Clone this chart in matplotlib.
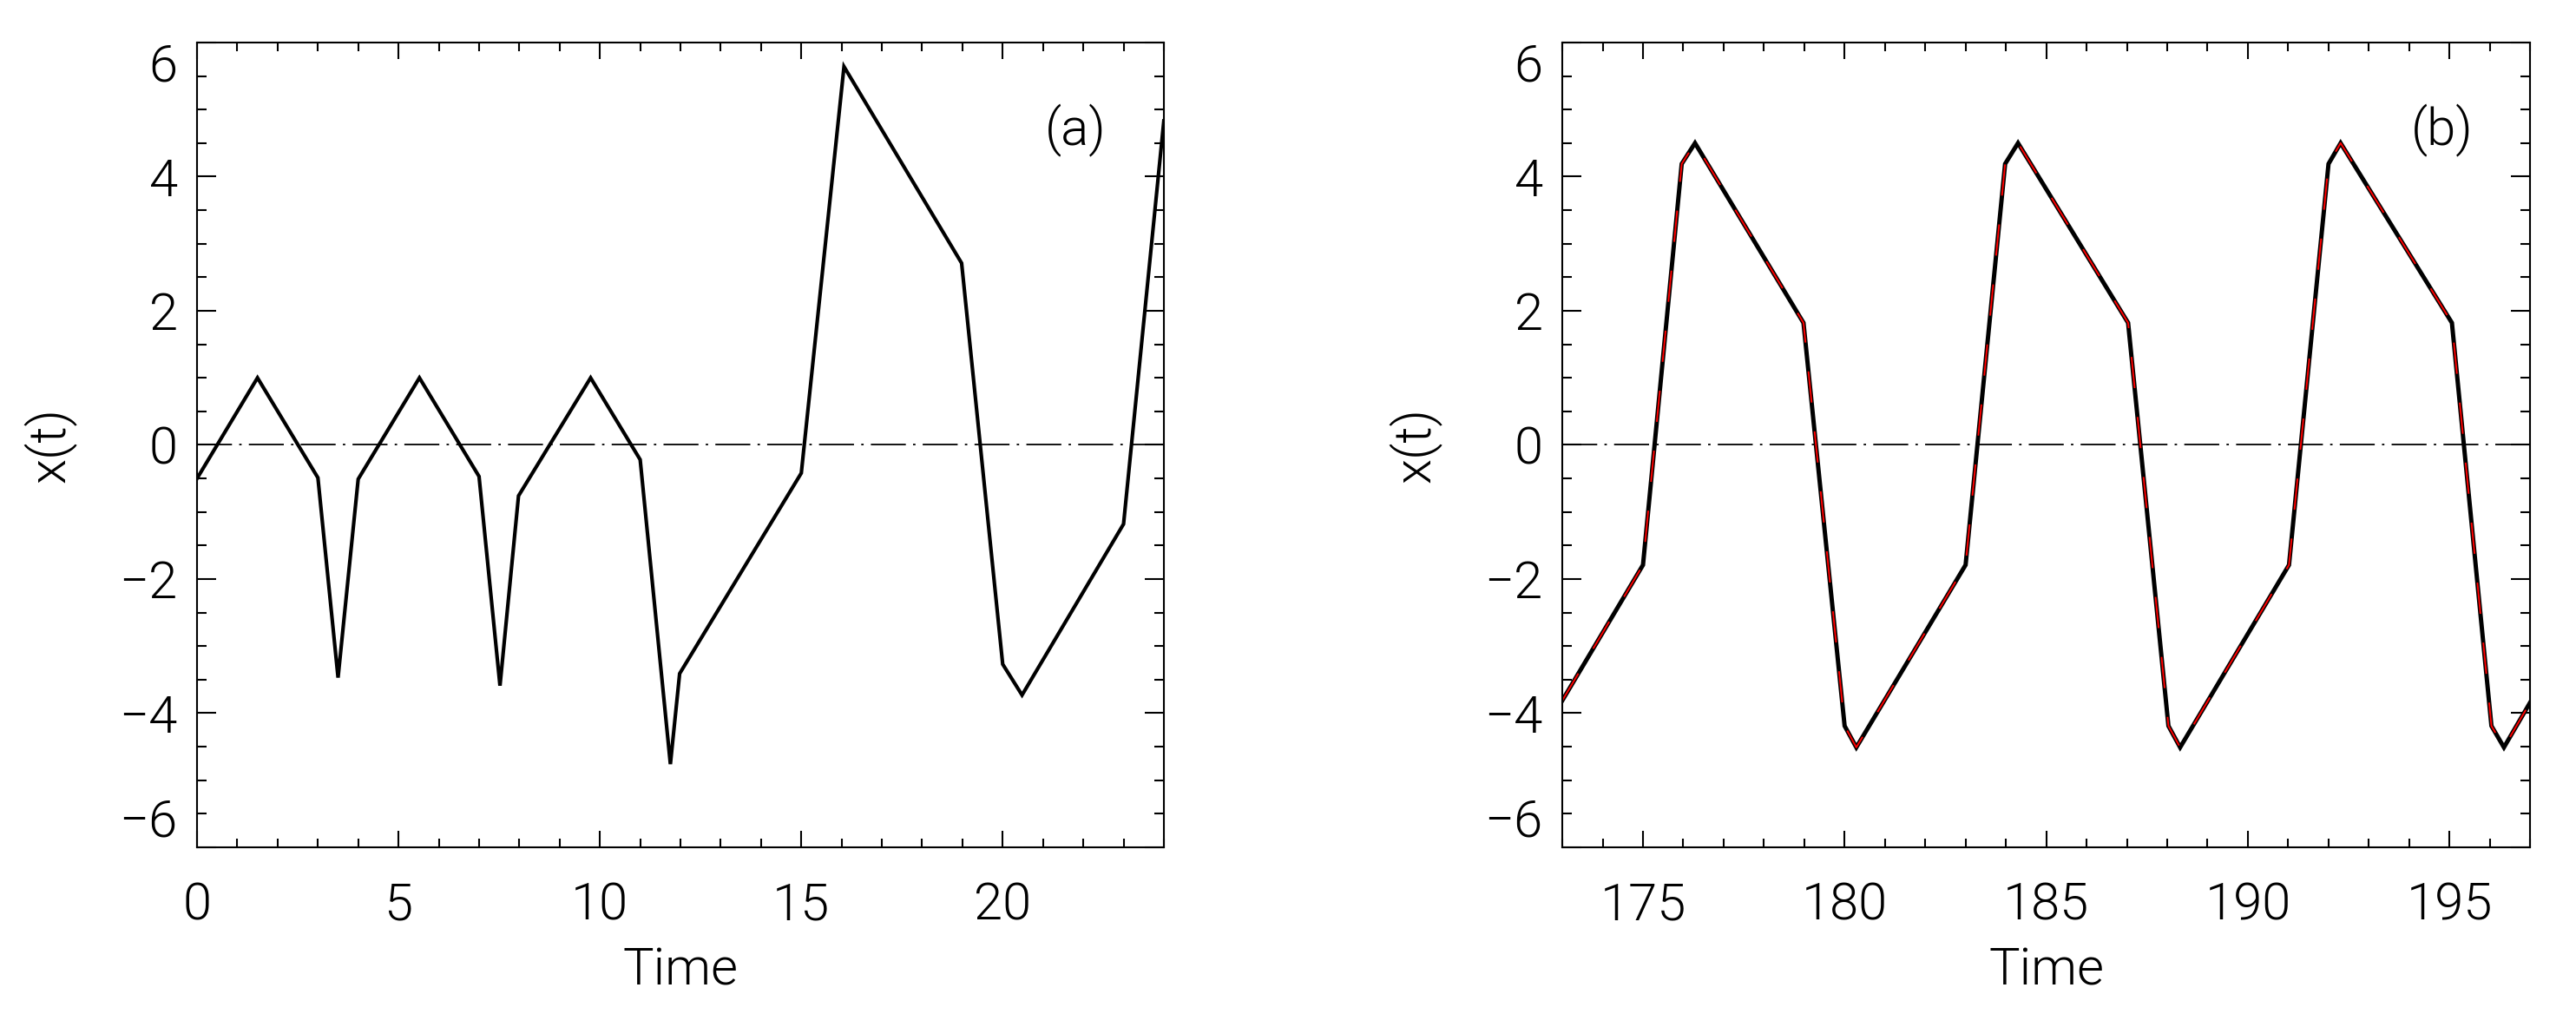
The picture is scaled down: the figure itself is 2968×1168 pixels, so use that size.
import matplotlib
matplotlib.use('Agg')
import matplotlib.pyplot as plt
from matplotlib.ticker import MultipleLocator

# vertices, panel (a)
t_a = [0.0, 1.5, 3.0, 3.5, 4.0, 5.52, 7.0, 7.52, 7.98, 9.77, 11.0, 11.75, 11.98,
       15.0, 16.06, 18.98, 20.0, 20.48, 23.0, 24.0]
x_a = [-0.5, 1.0, -0.49, -3.47, -0.51, 1.0, -0.47, -3.59, -0.76, 1.0, -0.22, -4.76, -3.41,
       -0.42, 5.64, 2.71, -3.27, -3.73, -1.18, 4.83]

# panel (b)
t_b = [173.0, 175.0, 175.96, 176.29, 178.98, 180.0, 180.29, 183.0, 183.98, 184.3,
       187.03, 188.03, 188.32, 191.02, 192.0, 192.3, 195.06, 196.04, 196.35, 197.0]
x_b = [-3.81, -1.79, 4.19, 4.5, 1.82, -4.19, -4.51, -1.79, 4.19, 4.5,
       1.82, -4.19, -4.51, -1.79, 4.19, 4.5, 1.82, -4.19, -4.51, -3.84]

xlims = [(0, 24), (173, 197)]
xmajor = 5
labels = ['(a)', '(b)']

plt.rcParams['font.family'] = ['Roboto', 'DejaVu Sans']
plt.rcParams['font.weight'] = 300
plt.rcParams['axes.labelweight'] = 300
plt.rcParams['font.size'] = 43
plt.rcParams['text.color'] = 'black'
plt.rcParams['lines.scale_dashes'] = False
plt.rcParams['axes.linewidth'] = 1.5

fig = plt.figure(figsize=(29.68, 11.68), dpi=100)
ax1 = fig.add_axes([0.0765, 0.1644, 0.3753, 0.7937])
ax2 = fig.add_axes([0.6065, 0.1644, 0.3757, 0.7937])

for i, ax in enumerate([ax1, ax2]):
    ax.set_xlim(*xlims[i])
    ax.set_ylim(-6, 6)
    ax.axhline(0, color='black', lw=1.3, linestyle=(0, (29, 6, 2, 6)))
    if i == 0:
        ax.plot(t_a, x_a, color='black', lw=3.0, solid_joinstyle='miter')
    else:
        ax.plot(t_b, x_b, color='black', lw=3.6, solid_joinstyle='miter')
        ax.plot(t_b, x_b, color='red', lw=1.4, linestyle=(0, (26, 24)))

    ax.xaxis.set_major_locator(MultipleLocator(xmajor))
    ax.xaxis.set_minor_locator(MultipleLocator(1))
    ax.yaxis.set_major_locator(MultipleLocator(2))
    ax.yaxis.set_minor_locator(MultipleLocator(0.5))
    ax.tick_params(axis='both', which='both', direction='in',
                   top=True, right=True, width=1.5, colors='black',
                   labelcolor='black')
    ax.tick_params(axis='x', which='major', length=14, pad=28)
    ax.tick_params(axis='x', which='minor', length=7)
    ax.tick_params(axis='y', which='major', length=16, pad=16)
    ax.tick_params(axis='y', which='minor', length=8)

    ax.set_xlabel('Time', color='black')
    ax.set_ylabel('x(t)', color='black')
    ax.xaxis.set_label_coords(0.5, -0.153)
    ax.xaxis.label.set_va('center')
    ax.yaxis.set_label_coords(-0.152, 0.5)
    ax.yaxis.label.set_va('center')

    # end labels of the y axis sit inside the frame
    yt = ax.yaxis.get_major_ticks()
    ylocs = ax.get_yticks()
    for tk, v in zip(yt, ylocs):
        if abs(v - 6) < 1e-6:
            tk.label1.set_va('top')
        elif abs(v + 6) < 1e-6:
            tk.label1.set_va('bottom')

    ax.text(0.909, 0.891, labels[i], transform=ax.transAxes,
            ha='center', va='center', color='black')

fig.savefig('out.png', dpi=100)
